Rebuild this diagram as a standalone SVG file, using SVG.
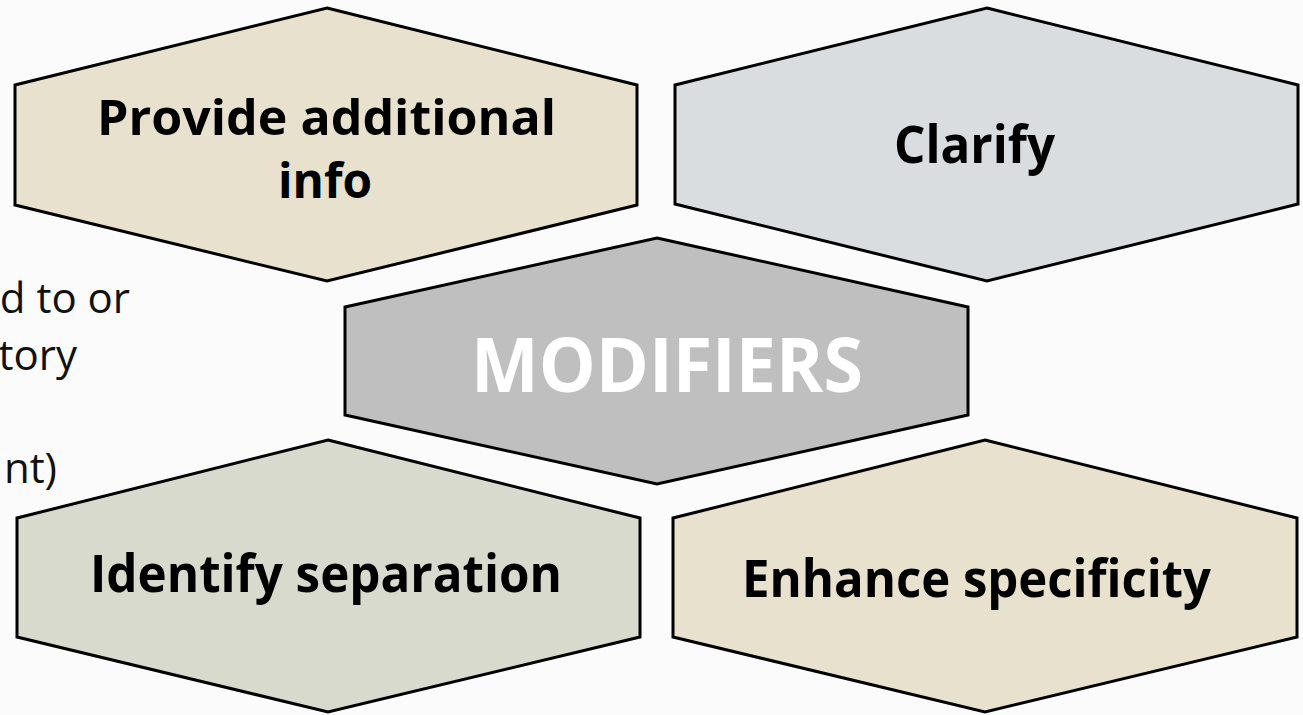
<svg xmlns="http://www.w3.org/2000/svg" width="1303" height="715" viewBox="0 0 1303 715">
<style>
.hex{stroke:#000;stroke-width:3;stroke-linejoin:miter}
.lbl{font-family:"Open Sans","Noto Sans","Liberation Sans",sans-serif;font-weight:bold;fill:#000;text-anchor:middle}
.side{font-family:"Open Sans","Noto Sans","Liberation Sans",sans-serif;font-size:42px;fill:#111}
</style>
<rect x="0" y="0" width="1303" height="715" fill="#fbfbfb"/>
<g id="side-text">
<text class="side" x="130" y="313" text-anchor="end">d to or</text>
<text class="side" x="77" y="370" text-anchor="end">tory</text>
<text class="side" x="57" y="483" text-anchor="end">nt)</text>
</g>
<g id="connectors"></g>
<g id="node-provide">
<polygon class="hex" fill="#e7e1ce" points="327,8 637,85 637,205 327,281 15,205 15,85"/>
<text class="lbl" x="326.5" y="135" font-size="48" textLength="459" lengthAdjust="spacingAndGlyphs">Provide additional</text>
<text class="lbl" x="325" y="198" font-size="48" textLength="94" lengthAdjust="spacingAndGlyphs">info</text>
</g>
<g id="node-clarify">
<polygon class="hex" fill="#d9dde0" points="987,8 1298,85 1298,204 987,281 675,204 675,85"/>
<text class="lbl" x="974.5" y="163" font-size="52" textLength="161" lengthAdjust="spacingAndGlyphs">Clarify</text>
</g>
<g id="node-modifiers">
<polygon class="hex" fill="#bfbfbf" points="657,238 968,307 968,415 657,484 345,415 345,307"/>
<text class="lbl" x="667" y="392" font-size="76" style="fill:#fff" textLength="392" lengthAdjust="spacingAndGlyphs">MODIFIERS</text>
</g>
<g id="node-identify">
<polygon class="hex" fill="#d8dacd" points="328,440 640,518 640,637 328,712 17,637 17,518"/>
<text class="lbl" x="326" y="592" font-size="52" textLength="472" lengthAdjust="spacingAndGlyphs">Identify separation</text>
</g>
<g id="node-enhance">
<polygon class="hex" fill="#e7e1ce" points="985,440 1297,518 1297,637 985,712 673,637 673,518"/>
<text class="lbl" x="976.5" y="597" font-size="52" textLength="469" lengthAdjust="spacingAndGlyphs">Enhance specificity</text>
</g>
</svg>
